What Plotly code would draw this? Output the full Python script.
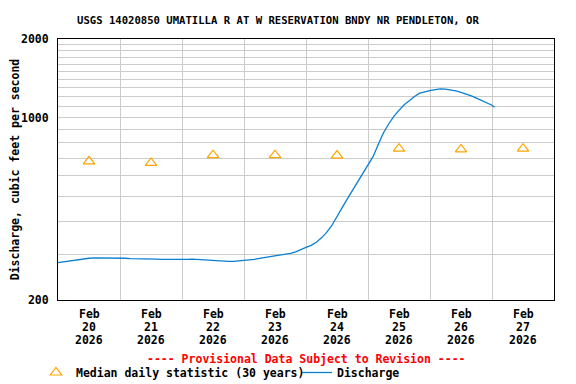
import pandas as pd
import plotly.graph_objects as go

# ---- data ----
title_text = "USGS 14020850 UMATILLA R AT W RESERVATION BNDY NR PENDLETON, OR"
y_title = "Discharge, cubic feet per second"

# discharge, every 2 hours from 2026-02-20 00:00, last value at 2026-02-27 01:00
q_feb20 = [278, 280, 282, 284, 286, 288, 289, 290, 290, 290, 289, 289]
q_feb21 = [289, 289, 288, 288, 287, 287, 287, 287, 286, 286, 285, 285]
q_feb22 = [285, 286, 287, 286, 285, 284, 283, 282, 282, 281, 281, 282]
q_feb23 = [283, 284, 286, 289, 291, 294, 296, 298, 300, 302, 306, 311]
q_feb24 = [318, 324, 333, 346, 363, 386, 420, 452, 488, 525, 568, 610]
q_feb25 = [655, 710, 790, 875, 945, 1010, 1065, 1120, 1160, 1205, 1240, 1258]
q_feb26 = [1268, 1280, 1288, 1285, 1278, 1265, 1250, 1232, 1210, 1188, 1165, 1140]
q_feb27 = [1115]
q_last_time = "2026-02-27 01:00"
q_last_value = 1095

median_days = ["2026-02-20", "2026-02-21", "2026-02-22", "2026-02-23",
               "2026-02-24", "2026-02-25", "2026-02-26", "2026-02-27"]
median_values = [680, 670, 718, 718, 715, 760, 755, 760]

day_numbers = ["20", "21", "22", "23", "24", "25", "26", "27"]
month_label = "Feb"
year_label = "2026"

y_tickvals = [200, 1000, 2000]
y_ticktext = ["200", "1000", "2000"]
y_minor_grid = [300, 400, 500, 600, 700, 800, 900, 1100, 1200, 1300,
                1400, 1500, 1600, 1700, 1800, 1900]

# ---- build ----
q_vals = q_feb20 + q_feb21 + q_feb22 + q_feb23 + q_feb24 + q_feb25 + q_feb26 + q_feb27
q_times = list(pd.date_range("2026-02-20 00:00", periods=len(q_vals), freq="2h"))
q_times.append(pd.Timestamp(q_last_time))
q_vals = q_vals + [q_last_value]

median_x = [pd.Timestamp(d) + pd.Timedelta(hours=12) for d in median_days]
midnights = [pd.Timestamp(d) for d in median_days[1:]]

FONT = "DejaVu Sans Mono"
FS = 11.5

# the page body adds an 8px margin; the figure is sized to compensate
W, H = 568, 376


def bold(size=FS, color="black"):
    return dict(family=FONT, size=size, color=color, weight="bold")


fig = go.Figure()
fig.add_trace(go.Scatter(
    x=median_x, y=median_values, mode="markers",
    name="Median daily statistic (30 years)", legend="legend",
    marker=dict(symbol="triangle-up-open", size=10, color="#FFA500",
                line=dict(width=1.2, color="#FFA500")),
))
fig.add_trace(go.Scatter(
    x=q_times, y=q_vals, mode="lines", name="Discharge", legend="legend2",
    line=dict(color="#0a7fd0", width=1.3),
))

annotations = []
for d, num in zip(median_x, day_numbers):
    for txt, dy in ((month_label, -14), (num, -27), (year_label, -40)):
        annotations.append(dict(
            x=d, y=0, xref="x", yref="paper", text=txt, showarrow=False,
            yanchor="middle", xanchor="center", yshift=dy, font=bold(),
        ))
annotations.append(dict(
    x=0.5, y=0, xref="paper", yref="paper", yshift=-59, yanchor="middle",
    text="---- Provisional Data Subject to Revision ----", showarrow=False,
    font=bold(color="#ff0000"),
))

legend_common = dict(orientation="h", xanchor="left", yanchor="top",
                     yref="container", xref="paper", font=bold(),
                     bgcolor="rgba(0,0,0,0)", borderwidth=0, itemwidth=30)

fig.update_layout(
    width=W, height=H,
    margin=dict(l=50, r=22, t=31, b=84, autoexpand=False),
    paper_bgcolor="white", plot_bgcolor="white",
    title=dict(text=title_text, x=0.4435, xref="paper", xanchor="center",
               y=1 - 12 / H, yref="container", yanchor="middle",
               font=bold(10.6)),
    font=bold(),
    showlegend=True,
    legend=dict(x=-0.0444, y=1 - 350 / H, **legend_common),
    legend2=dict(x=0.4818, y=1 - 350 / H, **legend_common),
    annotations=annotations,
)

fig.update_xaxes(
    type="date", range=["2026-02-20", "2026-02-28"],
    tickvals=midnights, showticklabels=False, ticks="",
    showgrid=True, gridcolor="#cccccc", gridwidth=1,
    showline=True, linecolor="black", linewidth=1, mirror=True,
    zeroline=False, automargin=False,
)
fig.update_yaxes(
    type="log", range=[2.30103, 3.30103],
    tickvals=y_tickvals, ticktext=y_ticktext, ticks="",
    ticklabelstandoff=6,
    showgrid=True, gridcolor="#cccccc", gridwidth=1,
    minor=dict(tickvals=y_minor_grid, showgrid=True, gridcolor="#cccccc",
               gridwidth=1, ticks=""),
    showline=True, linecolor="black", linewidth=1, mirror=True,
    tickfont=bold(),
    title=dict(text=y_title, standoff=3, font=bold()),
    zeroline=False, automargin=False,
)

fig.write_html("out.html")
